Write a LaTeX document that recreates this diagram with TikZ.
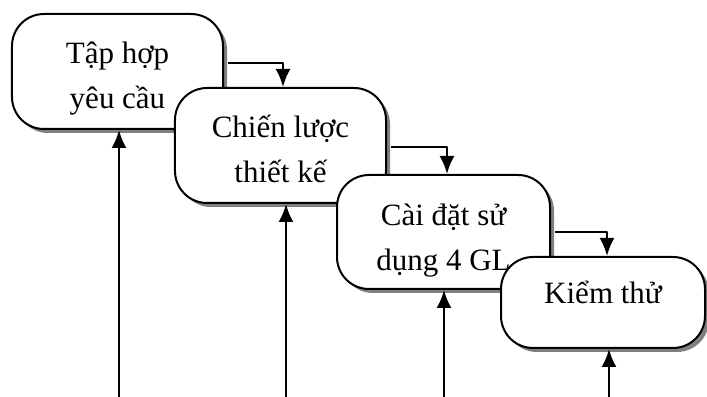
\documentclass[tikz,border=0pt]{standalone}
\usepackage{fontspec}
\setmainfont{Liberation Serif}
\usetikzlibrary{arrows.meta,shadows}
\tikzset{
  stage/.style={draw, fill=white, rounded corners=16bp, anchor=north,
    align=center, inner sep=0pt, minimum width=105.5bp,
    text height=47.5bp, text depth=10bp,
    font=\fontsize{15.5bp}{22.5bp}\selectfont,
    drop shadow={shadow xshift=2bp, shadow yshift=-2bp, fill=gray, opacity=1}},
  flow/.style={line width=1.2bp, -{Latex[length=9bp,width=7.5bp]}},
}
\begin{document}
\begin{tikzpicture}[x=0.5bp,y=-0.5bp,line join=bevel]
  \pgfsetlinewidth{1bp}
  \useasboundingbox (0,0) rectangle (707,397);
%%
  % Node: gather
  \node[stage] (gather) at (117.5,13) {Tập hợp\\yêu cầu};
  % Node: design
  \node[stage] (design) at (280.5,87) {Chiến lược\\thiết kế};
  % Node: build
  \node[stage, minimum width=106.5bp, text height=48bp, text depth=9bp] (build) at (443.5,174) {Cài đặt sử\\dụng 4 GL};
  % Node: test
  \node[stage, minimum width=102bp, text height=23.5bp, text depth=22bp] (test) at (603,256) {Kiểm thử};
%%
  % Edge: gather -> design
  \draw[flow] ([xshift=2bp,yshift=4.25bp]gather.east) -| ([xshift=1.25bp]design.north);
  % Edge: design -> build
  \draw[flow] ([xshift=2bp,yshift=-0.75bp]design.east) -| ([xshift=1.75bp]build.north);
  % Edge: build -> test
  \draw[flow] ([xshift=2bp]build.east) -| ([xshift=2bp]test.north);
%%
  \coordinate (in1) at (119,397);
  \coordinate (in2) at (286,397);
  \coordinate (in3) at (444,397);
  \coordinate (in4) at (609,397);
  % Edge: in -> stages
  \draw[flow] (in1) -- (in1 |- gather.south);
  \draw[flow] (in2) -- (in2 |- design.south);
  \draw[flow] (in3) -- (in3 |- build.south);
  \draw[flow] (in4) -- (in4 |- test.south);
%
\end{tikzpicture}
\end{document}
